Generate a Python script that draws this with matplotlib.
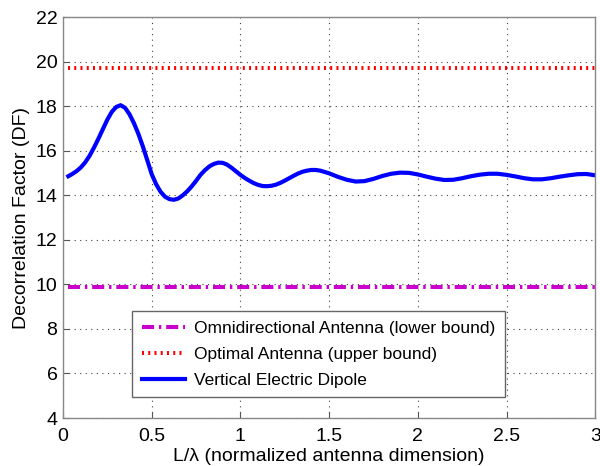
import matplotlib
matplotlib.use("Agg")
import matplotlib.pyplot as plt

plt.rcParams['font.family'] = ['Liberation Sans', 'DejaVu Sans']

x_dipole = [0.03, 0.05, 0.075, 0.10, 0.125, 0.15, 0.175, 0.20, 0.225, 0.25, 0.275, 0.30,
            0.325, 0.35, 0.375, 0.40, 0.425, 0.45, 0.475, 0.50, 0.525, 0.55, 0.575, 0.60,
            0.625, 0.65, 0.675, 0.70, 0.725, 0.75, 0.775, 0.80, 0.825, 0.85, 0.875, 0.90,
            0.925, 0.95, 0.975, 1.00, 1.025, 1.05, 1.075, 1.10, 1.125, 1.15, 1.175, 1.20,
            1.225, 1.25, 1.275, 1.30, 1.325, 1.35, 1.375, 1.40, 1.425, 1.45,
            1.50, 1.55, 1.60, 1.65, 1.70, 1.75, 1.80, 1.85, 1.90, 1.95, 2.00, 2.05,
            2.10, 2.15, 2.20, 2.25, 2.30, 2.35, 2.40, 2.45, 2.50, 2.55, 2.60, 2.65,
            2.70, 2.75, 2.80, 2.85, 2.90, 2.95, 3.00]
y_dipole = [14.86, 14.95, 15.08, 15.25, 15.48, 15.78, 16.15, 16.55, 16.98, 17.40, 17.75, 17.97,
            18.05, 17.93, 17.64, 17.24, 16.76, 16.20, 15.58, 14.95, 14.50, 14.16, 13.94, 13.83,
            13.80, 13.86, 14.00, 14.18, 14.40, 14.65, 14.92, 15.13, 15.30, 15.41, 15.47, 15.46,
            15.38, 15.24, 15.08, 14.92, 14.78, 14.66, 14.55, 14.47, 14.42, 14.41, 14.43, 14.48,
            14.56, 14.66, 14.77, 14.88, 14.98, 15.06, 15.11, 15.14, 15.14, 15.11,
            14.99, 14.83, 14.70, 14.62, 14.64, 14.74, 14.87, 14.97, 15.02, 15.01, 14.94, 14.84,
            14.75, 14.69, 14.70, 14.77, 14.86, 14.93, 14.97, 14.97, 14.92, 14.85, 14.77, 14.72,
            14.72, 14.77, 14.84, 14.90, 14.95, 14.96, 14.90]

x_bounds = [0.03, 3.0]
omni_level = 9.87
optimal_level = 19.74

labels = ['Omnidirectional Antenna (lower bound)',
          'Optimal Antenna (upper bound)',
          'Vertical Electric Dipole']
xticks = [0, 0.5, 1, 1.5, 2, 2.5, 3]
xticklabels = ['0', '0.5', '1', '1.5', '2', '2.5', '3']
yticks = [4, 6, 8, 10, 12, 14, 16, 18, 20, 22]

fig = plt.figure(figsize=(6.0, 4.66), dpi=100)
ax = fig.add_axes([0.105, 0.103, 0.887, 0.860])

ax.plot(x_bounds, [omni_level, omni_level], color='#cc00cc', linestyle=(0, (3, 1.2, 0.6, 1.2)),
        linewidth=2.9, label=labels[0])
ax.plot(x_bounds, [optimal_level, optimal_level], color='#ff0000', linestyle=(0, (0.5, 1.05)),
        linewidth=2.9, label=labels[1])
ax.plot(x_dipole, y_dipole, color='#0000ff', linewidth=3.0, label=labels[2])

ax.set_xlim(0, 3)
ax.set_ylim(4, 22)
ax.set_xticks(xticks)
ax.set_xticklabels(xticklabels)
ax.set_yticks(yticks)
ax.tick_params(direction='in', labelsize=14, length=4, color='#555555')
ax.tick_params(axis='x', pad=7)
ax.tick_params(axis='y', pad=4)
ax.grid(True, linestyle=(0, (1, 4)), color='#444444', linewidth=0.8)
for s in ax.spines.values():
    s.set_color('#888888')
    s.set_linewidth(1.0)

ax.set_xlabel('L/\u03bb (normalized antenna dimension)', fontsize=14, labelpad=2)
ax.set_ylabel('Decorrelation Factor (DF)', fontsize=14, labelpad=4)

leg = ax.legend(loc='lower left', bbox_to_anchor=(0.13, 0.052), fontsize=12.5,
                fancybox=False, framealpha=1, edgecolor='#666666', borderaxespad=0,
                handlelength=2.5, borderpad=0.55, labelspacing=0.62, handletextpad=0.5)
leg.get_frame().set_linewidth(1.0)

fig.savefig('out.png', dpi=100)
